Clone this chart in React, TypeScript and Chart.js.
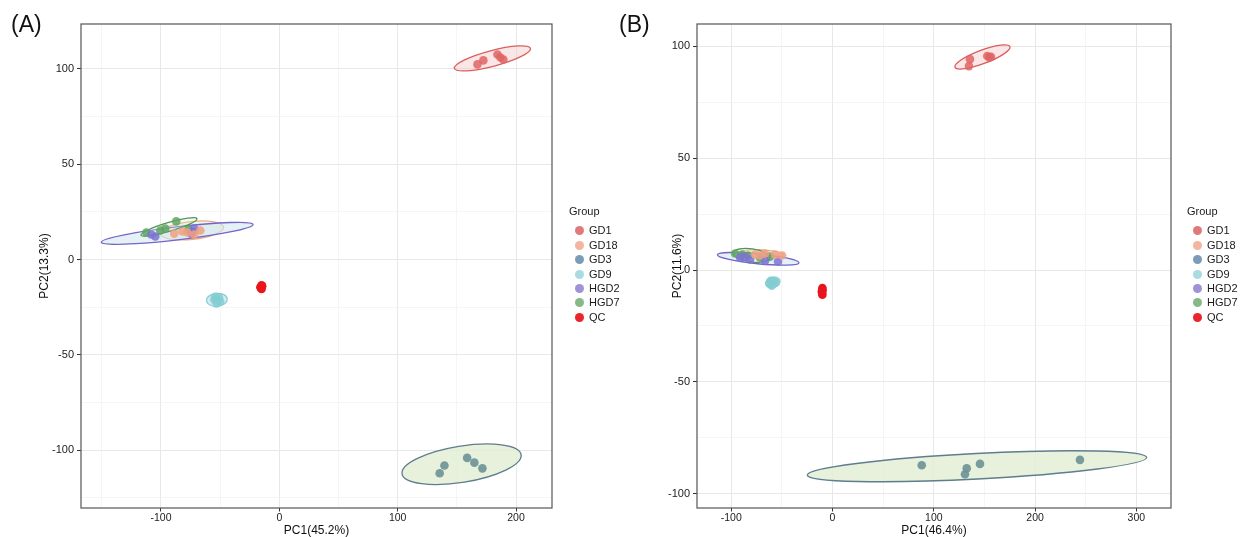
import React, { useEffect, useRef } from 'react';
import { Chart, registerables } from 'chart.js';

Chart.register(...registerables);

const FONT = 'Liberation Sans, Arial, Helvetica, sans-serif';

// ---------- groups & colours ----------
const GROUPS = ['GD1', 'GD18', 'GD3', 'GD9', 'HGD2', 'HGD7', 'QC'];
const LEGEND_COLORS = ['#E07A7A', '#F2B59E', '#7B9BB8', '#A8DCE0', '#9D93D6', '#86B888', '#E8262B'];
const POINT_COLORS = [
  'rgba(224,100,100,0.85)',
  'rgba(240,160,130,0.85)',
  'rgba(108,145,150,0.9)',
  'rgba(130,205,210,0.85)',
  'rgba(125,115,210,0.85)',
  'rgba(95,165,98,0.85)',
  'rgba(232,22,28,1)',
];
const ELLIPSE_STROKE = ['#D95F5F', '#EFA88A', '#5E7D8E', '#8CCFD2', '#7466C8', '#4F9A52', '#E8262B'];
const ELLIPSE_FILL = [
  'rgba(245,200,200,0.45)',
  'rgba(225,238,215,0.6)',
  'rgba(226,238,210,0.8)',
  'rgba(170,220,225,0.5)',
  'rgba(210,232,242,0.6)',
  'rgba(220,240,220,0.3)',
  'rgba(0,0,0,0)',
];

// ---------- panel A scores [PC1, PC2] ----------
const A_GD1: [number, number][] = [[167.4, 102.4], [172.4, 104.5], [184.3, 107.6], [186.8, 106.0], [189.3, 105.0]];
const A_GD18: [number, number][] = [[-88.8, 13.6], [-77.8, 14.2], [-66.8, 15.2], [-82.0, 14.7], [-71.9, 13.1]];
const A_GD3: [number, number][] = [[139.5, -108.1], [135.5, -112.2], [158.7, -104.1], [164.8, -106.6], [171.6, -109.6]];
const A_GD9: [number, number][] = [[-55, -21], [-51, -20], [-53, -23], [-50, -22], [-54, -19.5]];
const A_HGD2: [number, number][] = [[-108.2, 13.1], [-104.8, 12.1], [-74.4, 13.6], [-71.9, 16.3], [-73.5, 14.7]];
const A_HGD7: [number, number][] = [[-112.4, 14.2], [-96.4, 16.3], [-87.1, 20.0], [-100.6, 15.2], [-76.9, 15.7]];
const A_QC: [number, number][] = [[-15, -13.5], [-16, -14.5], [-15, -15.5], [-14.5, -14], [-15.5, -15]];

// ---------- panel B scores [PC1, PC2] ----------
const B_GD1: [number, number][] = [[135.7, 94.2], [152.8, 95.6], [154.8, 95.0], [134.7, 91.1], [156.5, 95.2]];
const B_GD18: [number, number][] = [[-76.5, 6.9], [-66.6, 7.4], [-56.8, 6.9], [-49.8, 6.5], [-71.6, 6.5]];
const B_GD3: [number, number][] = [[88.1, -87.2], [132.5, -88.6], [130.8, -91.2], [145.6, -86.6], [244.3, -84.8]];
const B_GD9: [number, number][] = [[-62, -6], [-58, -5], [-60, -7], [-56, -5.5], [-61, -4.8]];
const B_HGD2: [number, number][] = [[-91.3, 5.6], [-81.4, 4.7], [-66.6, 4.2], [-53.8, 3.8], [-86.4, 6.0]];
const B_HGD7: [number, number][] = [[-96.2, 7.4], [-83.4, 6.5], [-71.6, 5.6], [-61.7, 6.0], [-89.3, 6.9]];
const B_QC: [number, number][] = [[-10, -8], [-10.5, -9.5], [-10, -11], [-9.8, -9], [-10.3, -10.3]];

// ---------- 95% ellipses: major-axis ends (data units) and minor/major ratio ----------
type Ell = { group: string; x1: number; y1: number; x2: number; y2: number; ratio: number };
const A_ELLIPSES: Ell[] = [
  { group: 'GD1', x1: 147.9, y1: 100.3, x2: 212.2, y2: 110.8, ratio: 0.2 },
  { group: 'GD18', x1: -100.6, y1: 13.5, x2: -47.1, y2: 17.0, ratio: 0.28 },
  { group: 'GD3', x1: 103.7, y1: -112.5, x2: 204.3, y2: -102.4, ratio: 0.3 },
  { group: 'GD9', x1: -61.5, y1: -21.6, x2: -44.0, y2: -20.7, ratio: 0.62 },
  { group: 'HGD2', x1: -150.5, y1: 9.1, x2: -22.2, y2: 18.4, ratio: 0.085 },
  { group: 'HGD7', x1: -116.9, y1: 12.8, x2: -69.6, y2: 21.4, ratio: 0.15 },
];
const B_ELLIPSES: Ell[] = [
  { group: 'GD1', x1: 120.9, y1: 90.6, x2: 175.2, y2: 99.8, ratio: 0.23 },
  { group: 'GD18', x1: -91.3, y1: 7.9, x2: -48.6, y2: 6.9, ratio: 0.17 },
  { group: 'GD3', x1: -24.9, y1: -91.6, x2: 310.2, y2: -83.7, ratio: 0.075 },
  { group: 'GD9', x1: -66, y1: -6.5, x2: -52, y2: -4.5, ratio: 0.7 },
  { group: 'HGD2', x1: -113.7, y1: 6.8, x2: -33.1, y2: 3.2, ratio: 0.12 },
  { group: 'HGD7', x1: -97.9, y1: 7.7, x2: -61.7, y2: 5.4, ratio: 0.35 },
];

// ---------- axes ----------
const A_X_TICKS = [-150, -100, -50, 0, 50, 100, 150, 200];
const A_Y_TICKS = [-125, -100, -75, -50, -25, 0, 25, 50, 75, 100];
const B_X_TICKS = [-100, -50, 0, 50, 100, 150, 200, 250, 300];
const B_Y_TICKS = [-100, -75, -50, -25, 0, 25, 50, 75, 100];
const A_RANGE = { xMin: -167.6, xMax: 230.4, yMin: -130.4, yMax: 123.6 };
const B_RANGE = { xMin: -133.8, xMax: 334.2, yMin: -106.3, yMax: 109.9 };
const A_TITLES = { x: 'PC1(45.2%)', y: 'PC2(13.3%)' };
const B_TITLES = { x: 'PC1(46.4%)', y: 'PC2(11.6%)' };

type Panel = {
  points: [number, number][][];
  ellipses: Ell[];
  xTicks: number[];
  yTicks: number[];
  range: { xMin: number; xMax: number; yMin: number; yMax: number };
  titles: { x: string; y: string };
  yAxisWidth: number;
  rightPad: number;
  yTitlePad: number;
};

const PANEL_A: Panel = {
  points: [A_GD1, A_GD18, A_GD3, A_GD9, A_HGD2, A_HGD7, A_QC],
  ellipses: A_ELLIPSES,
  xTicks: A_X_TICKS,
  yTicks: A_Y_TICKS,
  range: A_RANGE,
  titles: A_TITLES,
  yAxisWidth: 81,
  rightPad: 68,
  yTitlePad: 37,
};
const PANEL_B: Panel = {
  points: [B_GD1, B_GD18, B_GD3, B_GD9, B_HGD2, B_HGD7, B_QC],
  ellipses: B_ELLIPSES,
  xTicks: B_X_TICKS,
  yTicks: B_Y_TICKS,
  range: B_RANGE,
  titles: B_TITLES,
  yAxisWidth: 77,
  rightPad: 70,
  yTitlePad: 50,
};

const panelPlugin = {
  id: 'pcaPanel',
  beforeDatasetsDraw(chart: any, _args: any, opts: any) {
    const { ctx, chartArea, scales } = chart;
    const xs = scales.x;
    const ys = scales.y;
    ctx.save();
    ctx.beginPath();
    ctx.rect(chartArea.left, chartArea.top, chartArea.right - chartArea.left, chartArea.bottom - chartArea.top);
    ctx.clip();
    (opts.ellipses as Ell[]).forEach((e) => {
      const gi = GROUPS.indexOf(e.group);
      const px1 = xs.getPixelForValue(e.x1);
      const py1 = ys.getPixelForValue(e.y1);
      const px2 = xs.getPixelForValue(e.x2);
      const py2 = ys.getPixelForValue(e.y2);
      const cx = (px1 + px2) / 2;
      const cy = (py1 + py2) / 2;
      const a = Math.hypot(px2 - px1, py2 - py1) / 2;
      const ang = Math.atan2(py2 - py1, px2 - px1);
      ctx.beginPath();
      ctx.ellipse(cx, cy, a, a * e.ratio, ang, 0, Math.PI * 2);
      ctx.fillStyle = ELLIPSE_FILL[gi];
      ctx.fill();
      ctx.lineWidth = 1.3;
      ctx.strokeStyle = ELLIPSE_STROKE[gi];
      ctx.stroke();
    });
    ctx.restore();
  },
  afterDraw(chart: any) {
    const { ctx, chartArea } = chart;
    ctx.save();
    ctx.strokeStyle = '#555555';
    ctx.lineWidth = 1.2;
    ctx.strokeRect(chartArea.left, chartArea.top, chartArea.right - chartArea.left, chartArea.bottom - chartArea.top);
    ctx.restore();
  },
};

function buildConfig(p: Panel): any {
  const xMajor = (v: number) => v % 100 === 0;
  const yMajor = (v: number) => v % 50 === 0;
  const gridFor = (isMajor: (v: number) => boolean, tl: number) => ({
    color: (c: any) => (c.tick && isMajor(c.tick.value) ? '#E8E8E8' : '#F1F1F1'),
    lineWidth: (c: any) => (c.tick && isMajor(c.tick.value) ? 1 : 0.7),
    tickColor: (c: any) => (c.tick && isMajor(c.tick.value) ? '#333333' : 'rgba(0,0,0,0)'),
    tickWidth: 1,
    tickLength: tl,
    drawTicks: true,
  });
  return {
    type: 'scatter',
    data: {
      datasets: GROUPS.map((g, i) => ({
        label: g,
        data: p.points[i].map(([x, y]) => ({ x, y })),
        pointRadius: 4.3,
        pointBackgroundColor: POINT_COLORS[i],
        pointBorderWidth: 0,
        pointBorderColor: 'rgba(0,0,0,0)',
        showLine: false,
      })),
    },
    plugins: [panelPlugin],
    options: {
      responsive: false,
      animation: false,
      events: [],
      layout: { padding: { left: 0, right: p.rightPad, top: 24, bottom: 0 } },
      plugins: {
        legend: { display: false },
        tooltip: { enabled: false },
        pcaPanel: { ellipses: p.ellipses },
      },
      scales: {
        x: {
          type: 'linear',
          min: p.range.xMin,
          max: p.range.xMax,
          afterBuildTicks: (s: any) => {
            s.ticks = p.xTicks.map((v) => ({ value: v }));
          },
          afterFit: (s: any) => {
            s.height = 29;
          },
          grid: gridFor(xMajor, 3.5),
          border: { display: false },
          ticks: {
            autoSkip: false,
            maxRotation: 0,
            padding: 1,
            color: '#222222',
            font: { family: FONT, size: 10.5, lineHeight: 1.1 },
            callback: (v: any) => (xMajor(Number(v)) ? String(v) : ''),
          },
          title: {
            display: true,
            text: p.titles.x,
            color: '#111111',
            font: { family: FONT, size: 12, lineHeight: 1.1 },
            padding: { top: 0, bottom: 0 },
          },
        },
        y: {
          type: 'linear',
          min: p.range.yMin,
          max: p.range.yMax,
          afterBuildTicks: (s: any) => {
            s.ticks = p.yTicks.map((v) => ({ value: v }));
          },
          afterFit: (s: any) => {
            s.width = p.yAxisWidth;
          },
          grid: gridFor(yMajor, 4),
          border: { display: false },
          ticks: {
            autoSkip: false,
            padding: 3,
            color: '#222222',
            font: { family: FONT, size: 11 },
            callback: (v: any) => (yMajor(Number(v)) ? String(v) : ''),
          },
          title: {
            display: true,
            text: p.titles.y,
            color: '#111111',
            font: { family: FONT, size: 12 },
            padding: { top: p.yTitlePad, bottom: 0 },
          },
        },
      },
    },
  };
}

function PanelChart({ panel, left, width }: { panel: Panel; left: number; width: number }) {
  const ref = useRef<HTMLCanvasElement>(null);
  useEffect(() => {
    const chart = new Chart(ref.current as HTMLCanvasElement, buildConfig(panel));
    return () => chart.destroy();
  }, [panel]);
  return (
    <canvas
      ref={ref}
      width={width}
      height={537}
      style={{ position: 'absolute', left, top: 0, width, height: 537 }}
    />
  );
}

function Legend({ left }: { left: number }) {
  return (
    <div style={{ position: 'absolute', left, top: 0, fontFamily: FONT, color: '#1a1a1a' }}>
      <div style={{ position: 'absolute', left: 0, top: 205, fontSize: 11, lineHeight: '13px', whiteSpace: 'nowrap' }}>
        Group
      </div>
      {GROUPS.map((g, i) => {
        const cy = 230.7 + i * 14.45;
        return (
          <React.Fragment key={g}>
            <div
              style={{
                position: 'absolute',
                left: 10 - 4.5,
                top: cy - 4.5,
                width: 9,
                height: 9,
                borderRadius: '50%',
                background: LEGEND_COLORS[i],
              }}
            />
            <div
              style={{
                position: 'absolute',
                left: 20,
                top: cy - 6.5,
                fontSize: 11,
                lineHeight: '13px',
                whiteSpace: 'nowrap',
              }}
            >
              {g}
            </div>
          </React.Fragment>
        );
      })}
    </div>
  );
}

export default function App() {
  return (
    <div style={{ position: 'absolute', left: 0, top: 0, width: 1241, height: 537, background: '#ffffff', overflow: 'hidden' }}>
      <PanelChart panel={PANEL_A} left={0} width={620} />
      <PanelChart panel={PANEL_B} left={620} width={621} />
      <Legend left={569} />
      <Legend left={1187} />
      <div style={{ position: 'absolute', left: 11, top: 11, fontFamily: FONT, fontSize: 23, lineHeight: '26px', color: '#111' }}>(A)</div>
      <div style={{ position: 'absolute', left: 619, top: 11, fontFamily: FONT, fontSize: 23, lineHeight: '26px', color: '#111' }}>(B)</div>
    </div>
  );
}
